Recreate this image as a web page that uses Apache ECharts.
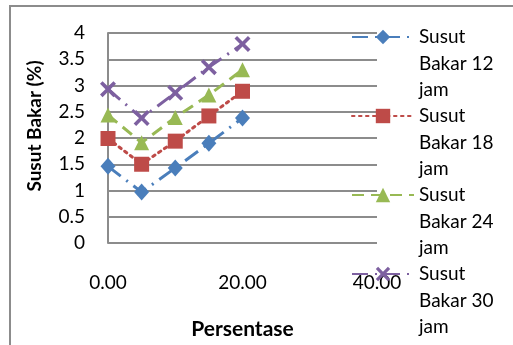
<!DOCTYPE html>
<html>
<head>
<meta charset="utf-8">
<script src="https://cdn.jsdelivr.net/npm/echarts@6/dist/echarts.min.js"></script>
<style>
html,body{margin:0;padding:0;background:#fff;}
#c{width:513px;height:345px;}
</style>
</head>
<body>
<div id="c"></div>
<script>
const xValues = [0, 5, 10, 15, 20];
const seriesNames = ['Susut Bakar 12 jam', 'Susut Bakar 18 jam', 'Susut Bakar 24 jam', 'Susut Bakar 30 jam'];
const bakar12 = [1.46, 0.97, 1.43, 1.90, 2.38];
const bakar18 = [1.99, 1.50, 1.94, 2.42, 2.89];
const bakar24 = [2.44, 1.91, 2.39, 2.82, 3.30];
const bakar30 = [2.93, 2.38, 2.86, 3.35, 3.79];
const xTicks = [0, 20, 40];
const yMax = 4;

const FONT = 'Lato';
const colors = ['#4A7EBB', '#BE4B48', '#98B954', '#7D60A0'];
const xSymbol = 'path://M0,1.6L1.6,0L5,3.4L8.4,0L10,1.6L6.6,5L10,8.4L8.4,10L5,6.6L1.6,10L0,8.4L3.4,5Z';
const LH = 26.5;
const legendCenters = [32, 111, 190, 269];

function pts(arr){ return xValues.map((x,i)=>[x, arr[i]]); }
function wrapName(n){
  const w = n.split(' ');
  // two blank lines first so that the first text line sits beside the icon
  return '\n\n' + w[0] + '\n' + w[1] + ' ' + w[2] + '\n' + w[3];
}

const legends = seriesNames.map((n, i) => ({
  orient: 'vertical', left: 346, top: legendCenters[i] - LH * 2.5,
  itemWidth: 62, itemHeight: 18, selectedMode: false,
  textStyle: {fontFamily: FONT, fontSize: 19, color: '#000', lineHeight: LH},
  formatter: wrapName,
  data: [n]
}));

const chart = echarts.init(document.getElementById('c'), null, {renderer:'canvas'});
chart.setOption({
  animation: false,
  backgroundColor: '#fff',
  graphic: [{
    type: 'rect', shape: {x: 10, y: 6, width: 520, height: 360},
    style: {fill: 'none', stroke: '#8c8c8c', lineWidth: 2}, z: -1
  }],
  grid: {left: 108, right: 136, top: 33, bottom: 101},
  xAxis: {
    type: 'value', min: 0, max: 40, interval: 20,
    name: 'Persentase', nameLocation: 'middle', nameGap: 76,
    nameTextStyle: {fontFamily: FONT, fontSize: 21, fontWeight: 'bold', color: '#000'},
    axisLine: {show: false}, axisTick: {show: false}, splitLine: {show: false},
    axisLabel: {fontFamily: FONT, fontSize: 19, color: '#000', margin: 30,
      formatter: v => xTicks.includes(v) ? v.toFixed(2) : ''}
  },
  yAxis: {
    type: 'value', min: 0, max: yMax, interval: 0.5,
    name: 'Susut Bakar (%)', nameLocation: 'middle', nameGap: 64,
    nameTextStyle: {fontFamily: FONT, fontSize: 19, fontWeight: 'bold', color: '#000', padding: [0,0,0,24]},
    axisLine: {show: true, lineStyle: {color: '#8c8c8c', width: 2}},
    axisTick: {show: false},
    splitLine: {show: true, lineStyle: {color: '#8c8c8c', width: 2}},
    axisLabel: {fontFamily: FONT, fontSize: 19, color: '#000', margin: 23}
  },
  legend: legends,
  series: [
    {name: seriesNames[0], type: 'line', data: pts(bakar12), symbol: 'diamond', symbolSize: [15, 17],
     itemStyle: {color: colors[0]}, lineStyle: {color: colors[0], width: 3, type: [16, 7, 2, 7]}},
    {name: seriesNames[1], type: 'line', data: pts(bakar18), symbol: 'rect', symbolSize: 15,
     itemStyle: {color: colors[1]}, lineStyle: {color: colors[1], width: 3, type: [2.5, 4.5], cap: 'round'}},
    {name: seriesNames[2], type: 'line', data: pts(bakar24), symbol: 'triangle', symbolSize: 15,
     itemStyle: {color: colors[2]}, lineStyle: {color: colors[2], width: 3, type: [12, 7]}},
    {name: seriesNames[3], type: 'line', data: pts(bakar30), symbol: xSymbol, symbolSize: 16,
     itemStyle: {color: colors[3]}, lineStyle: {color: colors[3], width: 3, type: [16, 7, 2, 7]}}
  ]
});
</script>
</body>
</html>
